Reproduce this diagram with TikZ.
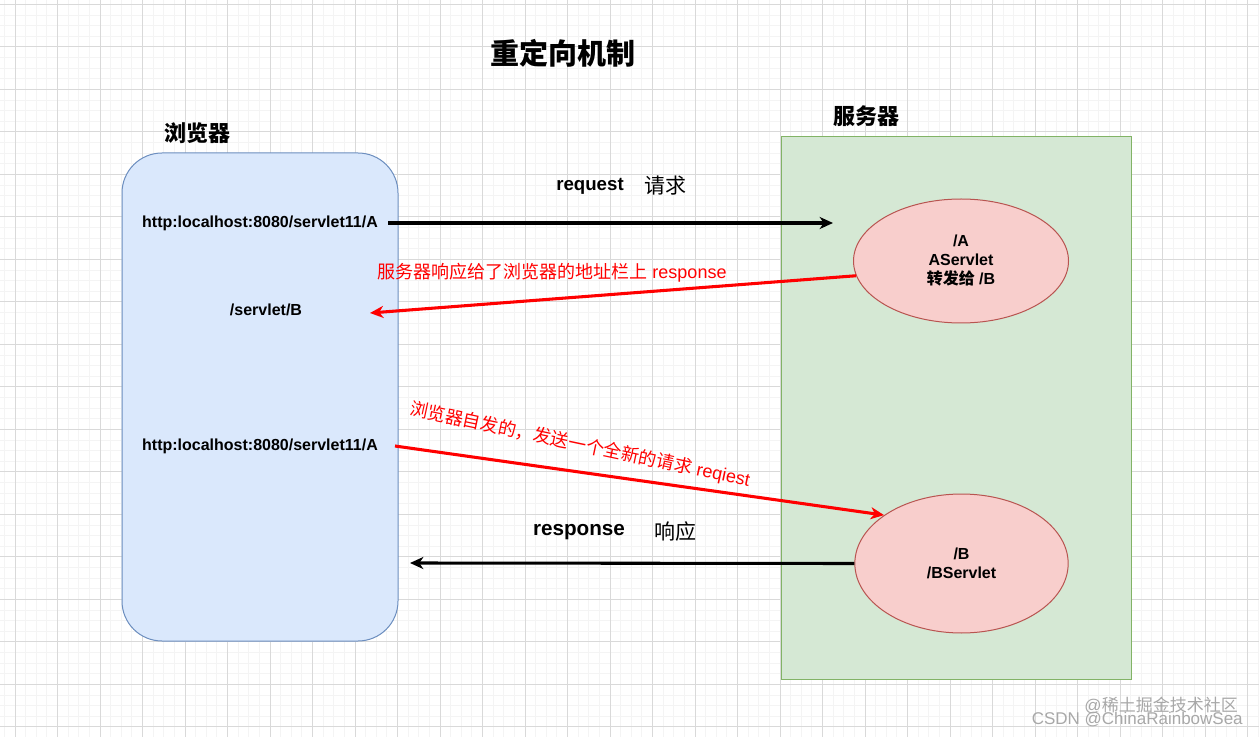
\documentclass[tikz,border=0pt]{standalone}
\usepackage{fontspec}
\setmainfont{Liberation Sans}
\newfontfamily\cjk{Noto Sans CJK SC}
\usetikzlibrary{arrows.meta,shapes.geometric}
\definecolor{bfill}{HTML}{DAE8FC}
\definecolor{bline}{HTML}{6C8EBF}
\definecolor{gfill}{HTML}{D5E8D4}
\definecolor{gline}{HTML}{82B366}
\definecolor{rfill}{HTML}{F8CECC}
\definecolor{rline}{HTML}{B85450}
\definecolor{gridmaj}{HTML}{D9D9D9}
\definecolor{gridmin}{HTML}{F4F4F4}
\definecolor{redarrow}{HTML}{FF0000}
\definecolor{wmark}{HTML}{A8A8A8}
\tikzset{
  gridmajor/.style={draw=gridmaj, line width=0.75pt},
  gridminor/.style={draw=gridmin, line width=0.6pt},
  browserbox/.style={draw=bline, fill=bfill, line width=0.75pt, rounded corners=30pt, minimum width=207pt, minimum height=366pt, inner sep=0pt},
  serverbox/.style={draw=gline, fill=gfill, line width=0.75pt, minimum width=262.5pt, minimum height=406.5pt, inner sep=0pt},
  servlet/.style={ellipse, draw=rline, fill=rfill, line width=0.75pt, inner sep=0pt, align=center, font=\fontsize{12pt}{14.25pt}\selectfont\bfseries},
  urltext/.style={font=\fontsize{12pt}{14pt}\selectfont\bfseries, inner sep=0pt},
  heading/.style={font=\fontsize{16.5pt}{18pt}\selectfont\cjk\bfseries, inner sep=0pt},
  redlabel/.style={text=redarrow, font=\fontsize{13.5pt}{15pt}\selectfont, inner sep=0pt},
  blkarrow/.style={draw=black, line width=2.3pt, -{Stealth[length=10pt, width=9pt, inset=3pt]}},
  redarr/.style={draw=redarrow, line width=2.3pt, -{Stealth[length=10pt, width=9pt, inset=3pt]}},
  wmtext/.style={text=wmark, font=\fontsize{12.75pt}{14pt}\selectfont, inner sep=0pt, anchor=east}
}
\begin{document}
\begin{tikzpicture}[x=0.75pt, y=-0.75pt]
\useasboundingbox (0,0) rectangle (1259,737);
\fill[white] (0,0) rectangle (1259,737);
% grid
\foreach \i in {0,...,119} {
  \draw[gridminor] ({4.375+10.625*\i},0) -- ({4.375+10.625*\i},737);
}
\foreach \i in {0,...,70} {
  \draw[gridminor] (0,{-6.325+10.625*\i}) -- (1259,{-6.325+10.625*\i});
}
\foreach \i in {0,...,29} {
  \draw[gridmajor] ({15+42.5*\i},0) -- ({15+42.5*\i},737);
}
\foreach \i in {0,...,17} {
  \draw[gridmajor] (0,{4.3+42.5*\i}) -- (1259,{4.3+42.5*\i});
}

% title and headings
\node[font=\fontsize{21.75pt}{24pt}\selectfont\cjk\bfseries, inner sep=0pt] (title) at (563,53) {重定向机制};
\node[heading] (hbrowser) at (197,133) {浏览器};
\node[heading] (hserver) at (866,116) {服务器};

% boxes
\node[browserbox] (browser) at (260,397) {};
\node[serverbox] (server) at (956,408) {};

% browser texts
\node[urltext] (url1) at (260,223) {http:localhost:8080/servlet11/A};
\node[urltext] (sb) at (266,310) {/servlet/B};
\node[urltext] (url2) at (260,446) {http:localhost:8080/servlet11/A};

% servlets
\node[servlet, minimum width=161.25pt, minimum height=93pt] (ella) at (961,261) {/A\\AServlet\\{\cjk 转发给} /B};
\node[servlet, minimum width=160pt, minimum height=104.25pt] (ellb) at (961.5,563.5) {/B\\/BServlet};

% arrow end coordinates
\coordinate (a1s) at (388,223);
\coordinate (a1e) at (833,223);
\coordinate (r1e) at (370,313);
\coordinate (r2s) at (395,446);
\coordinate (a2e) at (410,563);

% connectors
\draw[blkarrow] (a1s) -- (a1e);
\draw[redarr] (ella.188) -- (r1e);
\draw[redarr] (r2s) -- (ellb.148);
\draw[blkarrow] (ellb.west) -- (a2e);

% arrow labels
\node[font=\fontsize{14pt}{16pt}\selectfont\bfseries, inner sep=0pt] (lreq) at (590,186) {request};
\node[font=\fontsize{15.75pt}{17pt}\selectfont\cjk, inner sep=0pt] (lreqc) at (665,186) {请求};
\node[font=\fontsize{15.5pt}{17pt}\selectfont\bfseries, inner sep=0pt] (lresp) at (579,532) {response};
\node[font=\fontsize{15.75pt}{17pt}\selectfont\cjk, inner sep=0pt] (lrespc) at (675,532) {响应};
\node[redlabel] (lr1) at (552,273) {{\cjk 服务器响应给了浏览器的地址栏上} response};
\node[redlabel, rotate=-12] (lr2) at (580,445) {{\cjk 浏览器自发的，发送一个全新的请求} reqiest};

% watermark
\node[wmtext] (wm1) at (1238,705) {@{\cjk 稀土掘金技术社区}};
\node[wmtext] (wm2) at (1243,720) {CSDN @ChinaRainbowSea};
\end{tikzpicture}
\end{document}
